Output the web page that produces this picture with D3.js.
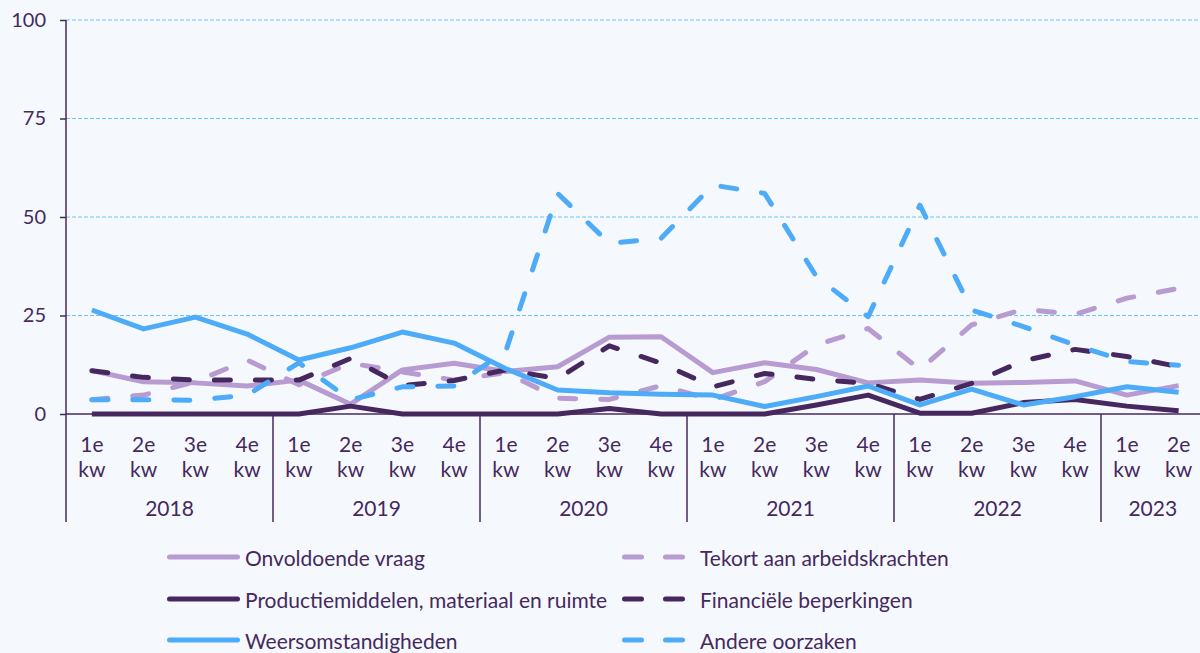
<!DOCTYPE html>
<html>
<head>
<meta charset="utf-8">
<script src="https://cdn.jsdelivr.net/npm/d3@7"></script>
<style>
  html, body { margin: 0; padding: 0; background: #f5f9fe; }
  svg { display: block; font-family: Lato, "Noto Sans", sans-serif; }
</style>
</head>
<body>
<svg></svg>
<script>
///////////////////////////////////////////
// Data
var years = ["2018", "2019", "2020", "2021", "2022", "2023"];
var quartersPerYear = [4, 4, 4, 4, 4, 2];
var quarterLabels = ["1e", "2e", "3e", "4e"];
var yTicks = [0, 25, 50, 75, 100];

var onvoldoendeVraag = [11.0, 8.2, 7.9, 7.1, 8.6, 2.5, 11.2, 12.9, 10.8, 12.0, 19.5, 19.6, 10.5, 13.0, 11.3, 7.9, 8.6, 7.8, 8.0, 8.4, 4.8, 7.2];
var tekortArbeid = [3.6, 4.8, 8.2, 13.7, 7.4, 12.9, 10.7, 8.6, 10.5, 4.0, 3.7, 7.2, 3.6, 8.2, 17.5, 21.7, 11.3, 22.6, 26.6, 25.3, 29.4, 31.9];
var productiemiddelen = [0, 0, 0, 0, 0, 2.0, 0, 0, 0, 0, 1.4, 0, 0, 0, 2.3, 4.8, 0.2, 0.2, 2.9, 3.7, 2.0, 0.8];
var financieel = [11.0, 9.3, 8.6, 8.6, 8.6, 14.1, 7.2, 8.5, 11.2, 9.0, 17.3, 12.9, 6.9, 10.3, 8.8, 7.8, 3.7, 7.8, 13.5, 16.4, 14.6, 12.0];
var weer = [26.4, 21.6, 24.6, 20.3, 13.7, 16.8, 20.8, 18.0, 11.5, 6.1, 5.4, 5.0, 4.8, 1.9, 4.4, 7.1, 2.3, 6.3, 2.3, 4.4, 6.9, 5.5];
var andere = [3.6, 3.6, 3.5, 4.8, 13.0, 3.6, 6.9, 7.1, 16.0, 56.0, 43.3, 44.6, 58.1, 56.0, 34.9, 24.7, 53.0, 26.4, 22.2, 17.5, 13.3, 12.4];

var seriesNames = ["Onvoldoende vraag", "Tekort aan arbeidskrachten",
  "Productiemiddelen, materiaal en ruimte", "Financiële beperkingen",
  "Weersomstandigheden", "Andere oorzaken"];
var seriesValues = [onvoldoendeVraag, tekortArbeid, productiemiddelen, financieel, weer, andere];

///////////////////////////////////////////
// Layout Setting
var svgWidth = 1200, svgHeight = 653;
var textColor = "#45295d",
    lightPurple = "#b89bd0",
    darkPurple = "#46285e",
    blue = "#4dabf8",
    gridColor = "#6cc5fc";
var seriesColors = [lightPurple, lightPurple, darkPurple, darkPurple, blue, blue];
var seriesDashed = [false, true, false, true, false, true];
var dash = "16,25";

var plotLeft = 66, plotRight = 1204.5, plotTop = 20, plotBottom = 414, axisBottom = 522;

var svg = d3.select("svg").attr("width", svgWidth).attr("height", svgHeight);
svg.append("rect").attr("width", svgWidth).attr("height", svgHeight).attr("fill", "#f5f9fe");

// build quarter index list
var quarters = [];
years.forEach(function(y, yi) {
  for (var q = 0; q < quartersPerYear[yi]; q++) quarters.push({year: y, q: q, yi: yi});
});

var x = d3.scaleBand().domain(d3.range(quarters.length)).range([plotLeft, plotRight]).padding(0);
var y = d3.scaleLinear().domain([0, 100]).range([plotBottom, plotTop]);

///////////////////////////////////////////
// Grid
svg.append("g").selectAll("line").data(yTicks.filter(function(d){ return d > 0; }))
  .enter().append("line")
  .attr("x1", plotLeft).attr("x2", svgWidth)
  .attr("y1", function(d){ return y(d); }).attr("y2", function(d){ return y(d); })
  .attr("stroke", gridColor).attr("stroke-width", 1).attr("stroke-dasharray", "4,2");

// Y axis
var yAxis = svg.append("g").attr("transform", "translate(" + plotLeft + ",0)")
  .call(d3.axisLeft(y).tickValues(yTicks).tickSize(6).tickPadding(14));
yAxis.select(".domain").remove();
yAxis.selectAll("line").attr("stroke", textColor).attr("stroke-width", 1.5);
yAxis.selectAll("text").attr("fill", textColor).style("font-size", "20px").style("font-family", "Lato");

svg.append("line").attr("x1", plotLeft).attr("x2", plotLeft)
  .attr("y1", plotTop).attr("y2", axisBottom)
  .attr("stroke", textColor).attr("stroke-width", 1.5);

// X axis baseline
svg.append("line").attr("x1", plotLeft).attr("x2", svgWidth)
  .attr("y1", plotBottom).attr("y2", plotBottom)
  .attr("stroke", textColor).attr("stroke-width", 1.5);

// year separators
var sepIdx = [];
var acc = 0;
quartersPerYear.forEach(function(n, i) { acc += n; if (i < quartersPerYear.length - 1) sepIdx.push(acc); });
svg.append("g").selectAll("line").data(sepIdx).enter().append("line")
  .attr("x1", function(d){ return x(d); }).attr("x2", function(d){ return x(d); })
  .attr("y1", plotBottom).attr("y2", axisBottom)
  .attr("stroke", textColor).attr("stroke-width", 1.5);

// quarter labels
var ql = svg.append("g").selectAll("g").data(quarters).enter().append("g")
  .attr("transform", function(d, i){ return "translate(" + (x(i) + x.bandwidth()/2) + ",0)"; });
ql.append("text").attr("y", 452).attr("text-anchor", "middle")
  .attr("fill", textColor).style("font-size", "21px")
  .text(function(d){ return quarterLabels[d.q]; });
ql.append("text").attr("y", 477).attr("text-anchor", "middle")
  .attr("fill", textColor).style("font-size", "21px")
  .text("kw");

// year labels
var start = 0;
years.forEach(function(yr, i) {
  var n = quartersPerYear[i];
  var cx = (x(start) + x(start + n - 1) + x.bandwidth()) / 2;
  svg.append("text").attr("x", cx).attr("y", 516).attr("text-anchor", "middle")
    .attr("fill", textColor).style("font-size", "21px").text(yr);
  start += n;
});

///////////////////////////////////////////
// Lines
var line = d3.line()
  .x(function(d, i){ return x(i) + x.bandwidth()/2; })
  .y(function(d){ return y(d); });

seriesValues.forEach(function(vals, k) {
  svg.append("path").datum(vals)
    .attr("d", line)
    .attr("fill", "none")
    .attr("stroke", seriesColors[k])
    .attr("stroke-width", 5)
    .attr("stroke-linejoin", "round")
    .attr("stroke-linecap", seriesDashed[k] ? "round" : "butt")
    .attr("stroke-dasharray", seriesDashed[k] ? dash : null);
});

///////////////////////////////////////////
// Legend
var legendCols = [167, 622], legendRows = [557, 599, 640];
seriesNames.forEach(function(name, k) {
  var col = k % 2, row = Math.floor(k / 2);
  var lx = legendCols[col], ly = legendRows[row];
  if (seriesDashed[k]) {
    svg.append("line").attr("x1", lx + 2.5).attr("x2", lx + 68)
      .attr("y1", ly).attr("y2", ly)
      .attr("stroke", seriesColors[k]).attr("stroke-width", 5)
      .attr("stroke-linecap", "round").attr("stroke-dasharray", "17,24");
  } else {
    svg.append("line").attr("x1", lx + 2.5).attr("x2", lx + 70.5)
      .attr("y1", ly).attr("y2", ly)
      .attr("stroke", seriesColors[k]).attr("stroke-width", 5)
      .attr("stroke-linecap", "round");
  }
  svg.append("text").attr("x", col ? 700 : 245).attr("y", ly)
    .attr("dominant-baseline", "central")
    .attr("fill", textColor).style("font-size", "21px").text(name);
});
</script>
</body>
</html>
